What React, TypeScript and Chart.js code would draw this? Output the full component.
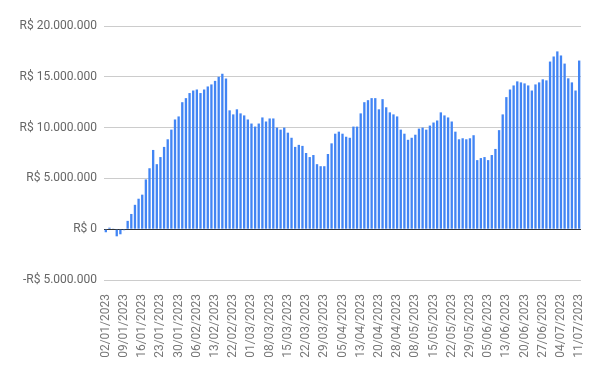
import React, { useEffect, useRef } from "react";
import { Chart, registerables } from "chart.js";

Chart.register(...registerables);

const dates: string[] = [
  "02/01/2023","03/01/2023","04/01/2023","05/01/2023","06/01/2023","09/01/2023","10/01/2023","11/01/2023","12/01/2023","13/01/2023",
  "16/01/2023","17/01/2023","18/01/2023","19/01/2023","20/01/2023","23/01/2023","24/01/2023","25/01/2023","26/01/2023","27/01/2023",
  "30/01/2023","31/01/2023","01/02/2023","02/02/2023","03/02/2023","06/02/2023","07/02/2023","08/02/2023","09/02/2023","10/02/2023",
  "13/02/2023","14/02/2023","15/02/2023","16/02/2023","17/02/2023","22/02/2023","23/02/2023","24/02/2023","27/02/2023","28/02/2023",
  "01/03/2023","02/03/2023","03/03/2023","06/03/2023","07/03/2023","08/03/2023","09/03/2023","10/03/2023","13/03/2023","14/03/2023",
  "15/03/2023","16/03/2023","17/03/2023","20/03/2023","21/03/2023","22/03/2023","23/03/2023","24/03/2023","27/03/2023","28/03/2023",
  "29/03/2023","30/03/2023","31/03/2023","03/04/2023","04/04/2023","05/04/2023","06/04/2023","10/04/2023","11/04/2023","12/04/2023",
  "13/04/2023","14/04/2023","17/04/2023","18/04/2023","19/04/2023","20/04/2023","24/04/2023","25/04/2023","26/04/2023","27/04/2023",
  "28/04/2023","02/05/2023","03/05/2023","04/05/2023","05/05/2023","08/05/2023","09/05/2023","10/05/2023","11/05/2023","12/05/2023",
  "15/05/2023","16/05/2023","17/05/2023","18/05/2023","19/05/2023","22/05/2023","23/05/2023","24/05/2023","25/05/2023","26/05/2023",
  "29/05/2023","30/05/2023","31/05/2023","01/06/2023","02/06/2023","05/06/2023","06/06/2023","07/06/2023","09/06/2023","12/06/2023",
  "13/06/2023","14/06/2023","15/06/2023","16/06/2023","19/06/2023","20/06/2023","21/06/2023","22/06/2023","23/06/2023","26/06/2023",
  "27/06/2023","28/06/2023","29/06/2023","30/06/2023","03/07/2023","04/07/2023","05/07/2023","06/07/2023","07/07/2023","10/07/2023",
  "11/07/2023",
];

// values in millions of R$
const valuesMillions: number[] = [
  -0.3, 0.15, 0.03, -0.7, -0.5, -0.1, 0.82, 1.5, 2.4, 3.0,
  3.4, 4.9, 6.0, 7.8, 6.4, 7.1, 8.1, 8.85, 9.8, 10.8,
  11.1, 12.5, 12.9, 13.4, 13.65, 13.75, 13.4, 13.75, 14.05, 14.25,
  14.6, 15.0, 15.3, 14.83, 11.7, 11.3, 11.8, 11.4, 11.2, 10.8,
  10.4, 10.1, 10.4, 11.0, 10.6, 10.9, 10.9, 10.0, 9.8, 10.0,
  9.5, 9.0, 8.1, 8.3, 8.2, 7.5, 7.1, 7.3, 6.4, 6.2,
  6.2, 7.4, 8.45, 9.4, 9.6, 9.4, 9.1, 9.0, 10.1, 10.1,
  11.4, 12.5, 12.7, 12.9, 12.9, 11.8, 12.8, 12.0, 11.5, 11.3,
  11.1, 9.8, 9.4, 8.8, 9.0, 9.3, 9.9, 10.0, 9.8, 10.2,
  10.5, 10.7, 11.5, 11.2, 11.0, 10.6, 9.6, 8.85, 8.95, 8.85,
  8.95, 9.25, 6.8, 7.0, 7.1, 6.8, 7.3, 7.9, 9.75, 11.3,
  13.0, 13.75, 14.15, 14.55, 14.45, 14.35, 14.15, 13.65, 14.25, 14.45,
  14.75, 14.65, 16.5, 17.0, 17.5, 17.1, 16.3, 14.85, 14.45, 13.65,
  16.6,
];

const yMin = -5000000;
const yMax = 20000000;
const yStep = 5000000;
const labelEvery = 5;

function formatBRL(v: number): string {
  const abs = Math.abs(Math.round(v));
  const s = abs.toString().replace(/\B(?=(\d{3})+(?!\d))/g, ".");
  return (v < 0 ? "-R$ " : "R$ ") + s;
}

export default function App() {
  const ref = useRef<HTMLCanvasElement | null>(null);

  useEffect(() => {
    document.body.style.margin = "0";
    const canvas = ref.current;
    if (!canvas) return;
    const chart = new Chart(canvas, {
      type: "bar",
      data: {
        labels: dates,
        datasets: [
          {
            data: valuesMillions.map((v) => v * 1000000),
            backgroundColor: "#4285F4",
            borderWidth: 0,
            barPercentage: 0.64,
            categoryPercentage: 1,
          },
        ],
      },
      options: {
        animation: false,
        responsive: false,
        maintainAspectRatio: false,
        layout: { padding: { top: 26, right: 19, left: 0, bottom: 0 } },
        plugins: { legend: { display: false }, tooltip: { enabled: false } },
        scales: {
          x: {
            grid: { display: false },
            border: { display: false },
            ticks: {
              autoSkip: false,
              maxRotation: 90,
              minRotation: 90,
              padding: 6,
              color: "#777777",
              font: { family: "Roboto", size: 12 },
              callback: (_v: any, i: number) => (i % labelEvery === 0 ? dates[i] : ""),
            },
            afterFit: (scale: any) => {
              scale.height = 91;
            },
          },
          y: {
            min: yMin,
            max: yMax,
            border: { display: false },
            grid: {
              drawTicks: false,
              color: (ctx: any) => (ctx.tick && ctx.tick.value === 0 ? "#333333" : "#cccccc"),
              lineWidth: 1,
            },
            ticks: {
              stepSize: yStep,
              padding: 7,
              color: "#666666",
              font: { family: "Roboto", size: 12 },
              callback: (v: any) => formatBRL(Number(v)),
            },
            afterFit: (scale: any) => {
              scale.width = 104;
            },
          },
        },
      },
    });
    return () => chart.destroy();
  }, []);

  return (
    <div style={{ width: 600, height: 371, background: "#fff" }}>
      <canvas ref={ref} width={600} height={371} style={{ display: "block" }} />
    </div>
  );
}
